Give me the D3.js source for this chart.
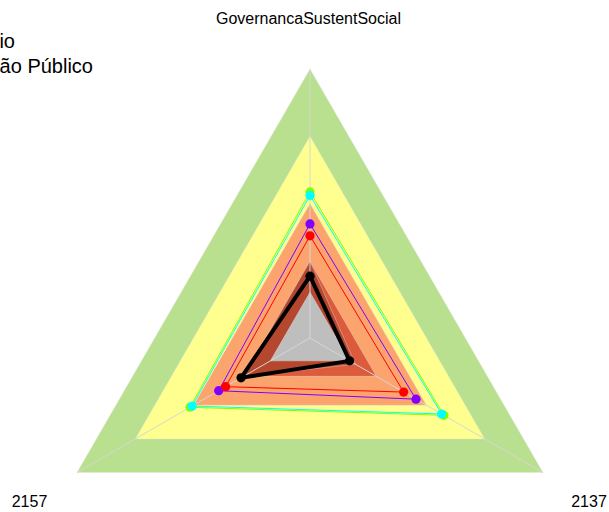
<!DOCTYPE html>
<html>
<head>
<meta charset="utf-8">
<script src="https://cdn.jsdelivr.net/npm/d3@7"></script>
<style>
  body { margin: 0; background: #fff; }
  svg { display: block; font-family: "Liberation Sans", Arial, sans-serif; }
</style>
</head>
<body>
<div class="graph-container"></div>
<script>
const width = 609,
    height = 512;

// assi in senso orario partendo dall'alto
const axes = ["GovernancaSustentSocial", "2137", "2157"];

// fasce di sfondo (valori per asse: alto, destra, sinistra)
const bandValues = [
    [1, 1, 1],
    [0.75, 0.75, 0.75],
    [0.5, 0.5, 0.5],
    [0.285, 0.285, 0.285],
    [0.285, 0.195, 0.285],
    [0.17, 0.17, 0.17]
];
const bandColors = ["#b9e08e", "#ffff8f", "#fca46d", "#dc5b3b", "#b4472d", "#bebebe"];

// serie
const seriesNames = ["verde", "ciano", "viola", "rosso", "nero"];
const seriesValues = [
    [0.543, 0.575, 0.515],
    [0.53, 0.565, 0.506],
    [0.424, 0.455, 0.392],
    [0.38, 0.402, 0.362],
    [0.23, 0.17, 0.296]
];
const seriesColors = ["#80ff00", "#00ffff", "#8000ff", "#ff0000", "#000000"];
const seriesWidths = [1, 1, 1, 1, 4];

const legendLabels = ["Município", "Órgão Público"];

const cx = 310, cy = 338, radius = 269;

const r = d3.scaleLinear().domain([0, 1]).range([0, radius]);
const angle = d3.scalePoint().domain(axes).range([0, 2 * Math.PI * 2 / 3]);

const point = (v, i) => {
    const a = angle(axes[i]);
    return [Math.sin(a) * r(v), -Math.cos(a) * r(v)];
};

const radarLine = d3.lineRadial()
    .angle((d, i) => angle(axes[i]))
    .radius(d => r(d))
    .curve(d3.curveLinearClosed);

const svg = d3.select(".graph-container")
    .append("svg")
    .attr("width", width)
    .attr("height", height);

const g = svg.append("g")
    .attr("transform", `translate(${cx}, ${cy})`);

// fasce
g.selectAll("path.band")
    .data(bandValues)
    .join("path")
    .attr("class", "band")
    .attr("d", radarLine)
    .attr("fill", (d, i) => bandColors[i])
    .attr("stroke", "#e4e4e4")
    .attr("stroke-width", 0.6)
    .attr("stroke-opacity", 0.7);

// assi
g.selectAll("line.axis")
    .data(axes)
    .join("line")
    .attr("class", "axis")
    .attr("x1", 0)
    .attr("y1", 0)
    .attr("x2", (d, i) => point(1, i)[0])
    .attr("y2", (d, i) => point(1, i)[1])
    .attr("stroke", "#d6d6d6")
    .attr("stroke-width", 1);

// serie
seriesValues.forEach((vals, s) => {
    g.append("path")
        .attr("d", radarLine(vals))
        .attr("fill", "none")
        .attr("stroke", seriesColors[s])
        .attr("stroke-width", seriesWidths[s])
        .attr("stroke-linejoin", "round");

    g.selectAll(null)
        .data(vals)
        .join("circle")
        .attr("cx", (d, i) => point(d, i)[0])
        .attr("cy", (d, i) => point(d, i)[1])
        .attr("r", 4.6)
        .attr("fill", seriesColors[s]);
});

// etichette assi
svg.append("text")
    .text(axes[0])
    .attr("x", 308.5)
    .attr("y", 24)
    .attr("text-anchor", "middle")
    .style("font-size", "16px")
    .style("fill", "#000");

svg.append("text")
    .text(axes[2])
    .attr("x", 29.5)
    .attr("y", 507)
    .attr("text-anchor", "middle")
    .style("font-size", "16px");

svg.append("text")
    .text(axes[1])
    .attr("x", 589)
    .attr("y", 507)
    .attr("text-anchor", "middle")
    .style("font-size", "16px");

// legenda (tagliata a sinistra come nell'originale)
svg.append("text")
    .text(legendLabels[0])
    .attr("x", 15)
    .attr("y", 48)
    .attr("text-anchor", "end")
    .style("font-size", "20px");

svg.append("text")
    .text(legendLabels[1])
    .attr("x", 93)
    .attr("y", 73)
    .attr("text-anchor", "end")
    .style("font-size", "20px");
</script>
</body>
</html>
